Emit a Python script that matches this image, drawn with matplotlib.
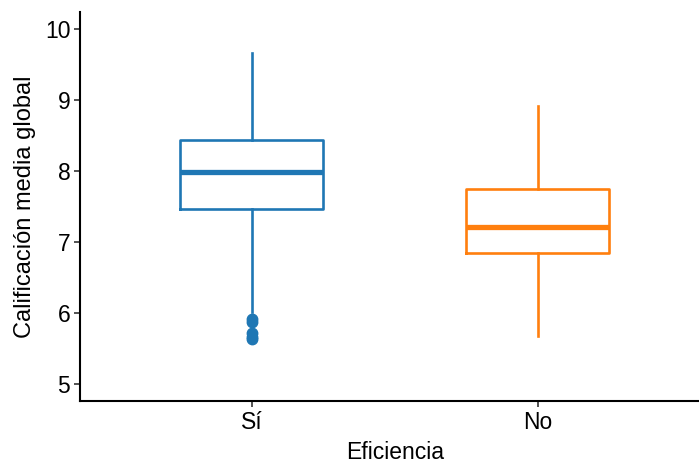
import matplotlib.pyplot as plt

plt.rcParams["font.family"] = ["Liberation Sans", "DejaVu Sans"]

# Box statistics
groups = ["Sí", "No"]
whisker_low = [6.01, 5.68]
q1 = [7.47, 6.85]
medians = [7.99, 7.21]
q3 = [8.44, 7.74]
whisker_high = [9.66, 8.92]
outliers_si = [5.92, 5.87, 5.72, 5.66, 5.63]
outliers_no = []
colors = ["#1f77b4", "#ff7f0e"]

fig = plt.figure(figsize=(6.99, 4.63), dpi=100)
ax = fig.add_axes([80 / 699, 62 / 463, 629.6 / 699, 389 / 463])

fliers = [outliers_si, outliers_no]
for i, g in enumerate(groups):
    stats = [{
        "whislo": whisker_low[i], "q1": q1[i], "med": medians[i],
        "q3": q3[i], "whishi": whisker_high[i], "fliers": fliers[i],
    }]
    c = colors[i]
    ax.bxp(stats, positions=[i + 1], widths=0.5, showcaps=False,
           boxprops=dict(color=c, linewidth=1.9),
           whiskerprops=dict(color=c, linewidth=1.9),
           medianprops=dict(color=c, linewidth=3.8, solid_capstyle="butt"),
           flierprops=dict(marker="o", markerfacecolor=c, markeredgecolor=c,
                           markersize=7.5))

ax.set_xlim(0.4, 2.6)
ax.set_ylim(4.76, 10.24)
ax.set_xticks([1, 2])
ax.set_xticklabels(groups)
ax.set_yticks([5, 6, 7, 8, 9, 10])

for side in ["top", "right"]:
    ax.spines[side].set_visible(False)
for side in ["left", "bottom"]:
    ax.spines[side].set_linewidth(1.5)
ax.tick_params(labelsize=16.5, length=4, width=1.2, pad=3,
               color="#333333", labelcolor="black")

ax.set_xlabel("Eficiencia", fontsize=16.5, labelpad=5)
ax.set_ylabel("Calificación media global", fontsize=17, labelpad=6)

fig.savefig("out.png", dpi=100)
